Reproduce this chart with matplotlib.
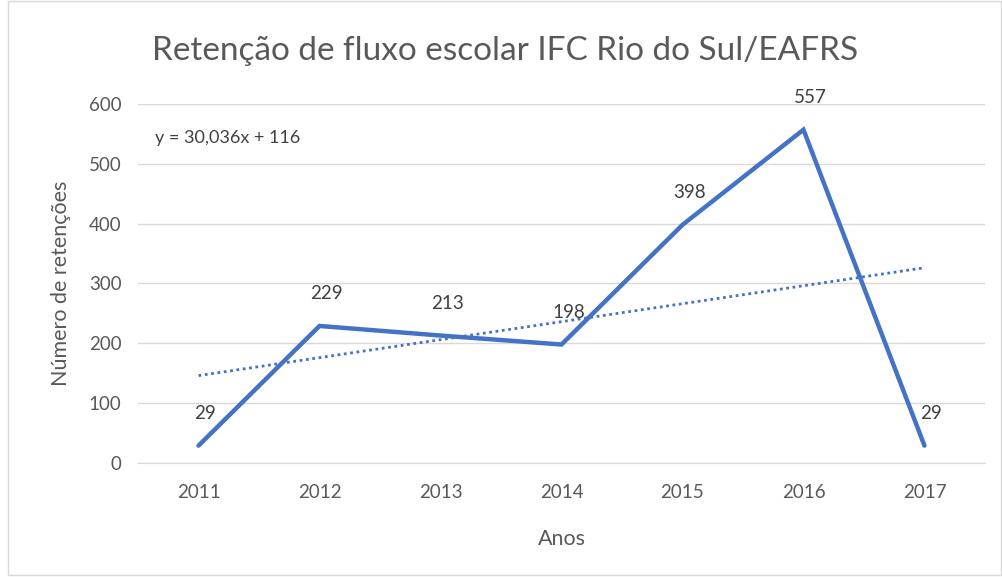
import numpy as np
import matplotlib.pyplot as plt
from matplotlib.patches import Rectangle

plt.rcParams['font.family'] = ['Lato', 'DejaVu Sans']

# dados
anos = ['2011', '2012', '2013', '2014', '2015', '2016', '2017']
retencoes = [29, 229, 213, 198, 398, 557, 29]
coef_a = 30.036
coef_b = 116

azul = '#4472C4'
cinza = '#595959'

fig = plt.figure(figsize=(10.03, 5.77), dpi=100)
ax = fig.add_axes([0.1376, 0.1976, 0.8444, 0.6222])

x = np.arange(len(anos))
ax.plot(x, retencoes, color=azul, linewidth=3.2, solid_capstyle='round',
        solid_joinstyle='miter', zorder=3)

# linha de tendencia
idx = x + 1
tendencia = coef_a * idx + coef_b
ax.plot(x, tendencia, color=azul, linewidth=2, linestyle=(0, (1, 1.3)), zorder=2)

for xi, v in zip(x, retencoes):
    ax.annotate(str(v), (xi, v), xytext=(5, 17), textcoords='offset points',
                ha='center', va='bottom', fontsize=13.5, color='#404040')

ax.text(0.02, 0.905, 'y = 30,036x + 116', transform=ax.transAxes,
        fontsize=13, color='#404040', ha='left', va='center')

ax.set_xlim(-0.5, len(anos) - 0.5)
ax.set_ylim(0, 600)
ax.set_yticks(range(0, 601, 100))
ax.set_xticks(x)
ax.set_xticklabels(anos)
ax.tick_params(length=0, labelsize=13.5, colors=cinza, pad=15)
ax.tick_params(axis='y', pad=12)
ax.grid(axis='y', color='#D9D9D9', linewidth=1)
ax.set_axisbelow(True)
for s in ['top', 'right', 'left']:
    ax.spines[s].set_visible(False)
ax.spines['bottom'].set_color('#D9D9D9')

ax.set_xlabel('Anos', fontsize=15.5, color=cinza, labelpad=20)
ax.set_ylabel('Número de retenções', fontsize=15.5, color=cinza, labelpad=13)

fig.text(0.504, 0.912, 'Retenção de fluxo escolar IFC Rio do Sul/EAFRS',
         ha='center', va='center', fontsize=24, color=cinza)

# borda do grafico
fig.patches.append(Rectangle((0.008, 0.003), 0.99, 0.995, transform=fig.transFigure,
                             fill=False, edgecolor='#D9D9D9', linewidth=1))

fig.savefig('out.png', dpi=100)
